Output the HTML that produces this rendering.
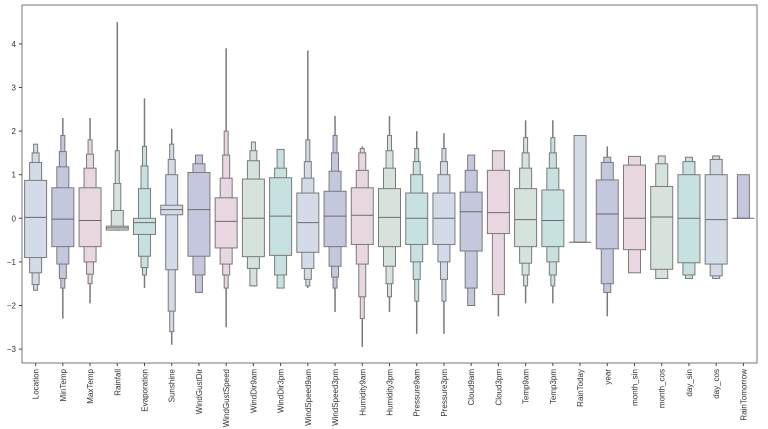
<!DOCTYPE html><html><head><meta charset="utf-8"><style>body{margin:0;background:#fff}svg{display:block;font-family:"Liberation Sans",sans-serif}</style></head><body>
<svg id="s" width="768" height="429" xmlns="http://www.w3.org/2000/svg"></svg>
<script>
const S=document.getElementById('s');let h='';
const L=22,R=757,T=5,B=363,Z=218.3,U=43.6;const Y=v=>Z-v*U;
const cols=['#d3dbe8','#c5c7de','#e8d6e1','#d5e3dc','#c6e1e0'];
const d=[
['Location',0.02,[[-0.9,0.87],[-1.25,1.28],[-1.52,1.5],[-1.65,1.7]],null],
['MinTemp',-0.02,[[-0.65,0.7],[-1.05,1.18],[-1.38,1.53],[-1.6,1.9]],[-2.3,2.3]],
['MaxTemp',-0.05,[[-0.65,0.7],[-1.0,1.15],[-1.28,1.47],[-1.5,1.8]],[-1.95,2.3]],
['Rainfall',-0.22,[[-0.27,-0.18],[-0.27,0.18],[-0.27,0.8],[-0.27,1.55]],[-0.27,4.5]],
['Evaporation',-0.1,[[-0.37,0.0],[-0.87,0.68],[-1.13,1.2],[-1.3,1.65]],[-1.6,2.75]],
['Sunshine',0.2,[[0.08,0.3],[-1.18,1.0],[-2.13,1.35],[-2.6,1.7]],[-2.9,2.05]],
['WindGustDir',0.2,[[-0.87,1.05],[-1.3,1.25],[-1.7,1.45]],null],
['WindGustSpeed',-0.07,[[-0.68,0.47],[-1.05,0.92],[-1.3,1.45],[-1.6,2.0]],[-2.5,3.9]],
['WindDir9am',0.0,[[-0.88,0.9],[-1.15,1.32],[-1.55,1.55],[-1.55,1.75]],null],
['WindDir3pm',0.05,[[-0.85,0.93],[-1.3,1.15],[-1.6,1.58]],null],
['WindSpeed9am',-0.1,[[-0.78,0.58],[-1.15,0.92],[-1.4,1.3],[-1.55,1.8]],[-1.6,3.85]],
['WindSpeed3pm',0.05,[[-0.65,0.62],[-1.1,1.08],[-1.35,1.5],[-1.6,1.9]],[-2.15,2.35]],
['Humidity9am',0.07,[[-0.6,0.7],[-1.05,1.1],[-1.8,1.5],[-2.3,1.6]],[-2.95,1.65]],
['Humidity3pm',0.02,[[-0.65,0.68],[-1.1,1.15],[-1.5,1.55],[-1.8,1.9]],[-2.15,2.35]],
['Pressure9am',0.0,[[-0.6,0.58],[-1.0,1.0],[-1.4,1.3],[-1.9,1.6]],[-2.65,2.0]],
['Pressure3pm',0.0,[[-0.6,0.58],[-1.0,1.0],[-1.4,1.3],[-1.9,1.6]],[-2.65,1.95]],
['Cloud9am',0.15,[[-0.75,0.6],[-1.6,1.1],[-2.0,1.45]],null],
['Cloud3pm',0.13,[[-0.35,1.1],[-1.75,1.55]],[-2.25,1.55]],
['Temp9am',-0.03,[[-0.65,0.68],[-1.03,1.15],[-1.3,1.5],[-1.55,1.85]],[-1.95,2.25]],
['Temp3pm',-0.05,[[-0.65,0.65],[-1.0,1.15],[-1.3,1.5],[-1.55,1.85]],[-1.95,2.25]],
['RainToday',-0.55,[[-0.55,1.9]],null,12],
['year',0.1,[[-0.7,0.88],[-1.5,1.28],[-1.7,1.4]],[-2.25,1.65]],
['month_sin',0.0,[[-0.72,1.22],[-1.25,1.42]],null],
['month_cos',0.03,[[-1.17,0.73],[-1.38,1.25],[-1.38,1.43]],null],
['day_sin',0.0,[[-1.02,1.0],[-1.3,1.3],[-1.38,1.4]],null],
['day_cos',-0.03,[[-1.05,1.0],[-1.32,1.35],[-1.38,1.43]],null],
['RainTomorrow',0.0,[[0,1]],null,12]];
const n=d.length,sw=(R-L)/n,wd=[22,12,7,4,2.5];
d.forEach((c,i)=>{const cx=L+sw*(i+0.5),col=cols[i%5];
 if(c[3])h+=`<line x1="${cx}" x2="${cx}" y1="${Y(c[3][0])}" y2="${Y(c[3][1])}" stroke="#7a7a7a" stroke-width="1.5"/>`;
 for(let k=c[2].length-1;k>=0;k--){const w=(k==0&&c[4])?c[4]:wd[k],b=c[2][k];h+=`<rect x="${cx-w/2}" y="${Y(b[1])}" width="${w}" height="${Math.max(Y(b[0])-Y(b[1]),1)}" fill="${col}" stroke="#7a7a7a" stroke-width="1"/>`;}
 h+=`<line x1="${cx-11}" x2="${cx+11}" y1="${Y(c[1])}" y2="${Y(c[1])}" stroke="#6a6a6a" stroke-width="1"/>`;
 h+=`<line x1="${cx}" x2="${cx}" y1="${B}" y2="${B+3}" stroke="#444"/>`;
 h+=`<text transform="translate(${cx+3},${B+6}) rotate(-90)" text-anchor="end" font-size="8" fill="#333">${c[0]}</text>`;});
for(let v=-3;v<=4;v++){h+=`<line x1="${L-3}" x2="${L}" y1="${Y(v)}" y2="${Y(v)}" stroke="#444"/><text x="${L-6}" y="${Y(v)+3}" text-anchor="end" font-size="8" fill="#333">${v<0?'−'+(-v):v}</text>`;}
h+=`<rect x="${L}" y="${T}" width="${R-L}" height="${B-T}" fill="none" stroke="#555" stroke-width="0.8"/>`;
S.innerHTML=h;
</script></body></html>
